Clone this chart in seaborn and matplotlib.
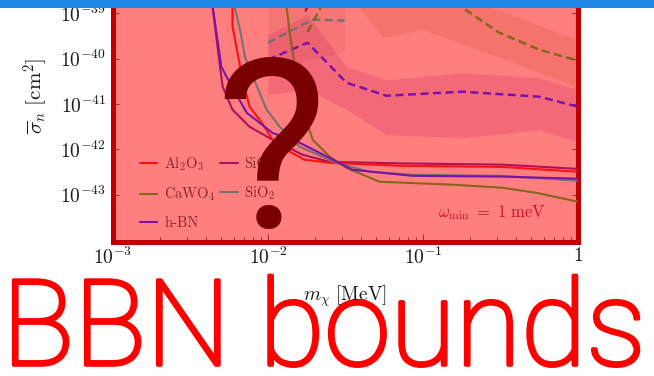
import matplotlib
matplotlib.use("Agg")
import matplotlib.pyplot as plt
from matplotlib.patches import Rectangle
import matplotlib.patheffects as pe
import seaborn as sns

# ---------------- axis ticks ----------------
x_ticks = [1e-3, 1e-2, 1e-1, 1.0]
x_tick_labels = [r"$10^{-3}$", r"$10^{-2}$", r"$10^{-1}$", r"$1$"]
y_ticks = [1e-43, 1e-42, 1e-41, 1e-40, 1e-39, 1e-38]
y_tick_labels = [r"$10^{-43}$", r"$10^{-42}$", r"$10^{-41}$",
                 r"$10^{-40}$", r"$10^{-39}$", r"$10^{-38}$"]

# ---------------- reach curves: m_chi [MeV], sigma_n [cm^2] ----------------
al2o3_m = [5.84e-3, 5.9e-3, 5.9e-3, 6.3e-3, 6.8e-3, 7.6e-3, 9.1e-3, 1.07e-2,
           1.38e-2, 1.72e-2, 2.5e-2, 7.05e-2, 0.325, 1.0]
al2o3_sigma = [1e-38, 1.34e-39, 5.1e-40, 1.58e-40, 4.0e-41, 8.7e-42, 3.9e-42,
               1.63e-42, 8.9e-43, 5.9e-43, 5.05e-43, 4.35e-43, 4.1e-43, 3.2e-43]

sic_m = [4.03e-3, 4.4e-3, 4.9e-3, 5.1e-3, 5.9e-3, 7.6e-3, 1.07e-2, 1.67e-2,
         2.5e-2, 7.05e-2, 0.325, 1.0]
sic_sigma = [1e-38, 1.34e-39, 6.65e-41, 2.4e-41, 7.5e-42, 3.15e-42, 1.63e-42,
             7.6e-43, 5.3e-43, 4.9e-43, 4.6e-43, 3.7e-43]

cawo4_m = [1.2e-2, 1.32e-2, 1.38e-2, 1.49e-2, 1.6e-2, 1.94e-2, 2.5e-2, 3.21e-2,
           5.24e-2, 0.155, 0.325, 0.537, 1.0]
cawo4_sigma = [1e-38, 1.34e-39, 3.75e-40, 6.65e-41, 1.24e-41, 1.63e-42, 6.9e-43,
               3.9e-43, 1.93e-43, 1.66e-43, 1.42e-43, 1.1e-43, 7.0e-44]

sio2_m = [5.35e-3, 6.1e-3, 6.6e-3, 7.1e-3, 8.5e-3, 9.8e-3, 1.19e-2, 1.6e-2,
          2.25e-2, 2.77e-2, 4.52e-2, 8.55e-2, 0.325, 1.0]
sio2_sigma = [1e-38, 1.34e-39, 4.4e-40, 1.1e-40, 2.4e-41, 7.5e-42, 3.15e-42,
              1.14e-42, 6.9e-43, 5.05e-43, 3.2e-43, 2.75e-43, 2.6e-43, 2.03e-43]

hbn_m = [4.03e-3, 4.4e-3, 5.0e-3, 5.66e-3, 7.3e-3, 1.07e-2, 1.6e-2, 2.15e-2,
         3.5e-2, 8.55e-2, 0.325, 1.0]
hbn_sigma = [1e-38, 1.34e-39, 6.65e-41, 2.95e-41, 6.4e-42, 2.3e-42, 1.4e-42,
             8.4e-43, 3.55e-43, 2.6e-43, 2.5e-43, 2.25e-43]

# ---------------- dashed curves with their uncertainty bands ----------------
hbn_dash_m = [1.0e-2, 1.8e-2, 3.21e-2, 5.81e-2, 0.179, 0.562, 1.0]
hbn_dash_sigma = [9.5e-41, 2.25e-40, 2.95e-41, 1.52e-41, 1.87e-41, 1.45e-41, 8.7e-42]
hbn_band_lo = [1.6e-41, 2.07e-41, 7.5e-42, 2.1e-42, 1.8e-42, 2.7e-42, 1.47e-42]
hbn_band_hi = [3.39e-40, 9.3e-40, 6.65e-41, 3.4e-41, 4.9e-41, 3.8e-41, 2.07e-41]

sio2_dash_m = [1.0e-2, 1.94e-2, 3.12e-2]
sio2_dash_sigma = [2.25e-40, 7.3e-40, 6.9e-40]
sio2_band_lo = [4.4e-41, 1.05e-40, 1.36e-40]
sio2_band_hi = [1e-38, 1e-38, 1e-38]

cawo4_dash_m = [1.8e-2, 2.15e-2, 2.69e-2, 5.0e-2, 0.159, 0.179, 0.31, 0.562, 1.0]
cawo4_dash_sigma = [3.9e-40, 1.2e-39, 1e-38, 5e-38, 5.5e-39, 1.34e-39, 3.75e-40,
                    1.58e-40, 9.0e-41]
cawo4_band_m = [0.0312, 0.0389, 0.0548, 0.099, 0.128, 0.28, 1.0]
cawo4_band_lo = [1e-38, 1.34e-39, 2.9e-40, 4.4e-40, 3.2e-40, 1.22e-40, 2.3e-41]
cawo4_band_hi = [1e-38, 1e-38, 1e-38, 1e-38, 1e-38, 1.34e-39, 2.6e-40]

sic_dash_m = [1.49e-2, 1.75e-2, 2.03e-2]
sic_dash_sigma = [3.3e-39, 1.15e-39, 3.3e-39]

legend_order = ["Al$_2$O$_3$", "CaWO$_4$", "h-BN", "SiC", "SiO$_2$"]

c_al2o3 = "#ff1010"
c_sic = "#b0105a"
c_cawo4 = "#86651a"
c_sio2 = "#787070"
c_hbn = "#7b12a8"

# ---------------- style ----------------
sns.set_theme(style="white")
plt.rcParams["font.family"] = ["cmr10", "DejaVu Serif"]
plt.rcParams["mathtext.fontset"] = "cm"
plt.rcParams["axes.formatter.use_mathtext"] = True

W, H = 654, 376
fig = plt.figure(figsize=(W / 100, H / 100), dpi=100)
fig.patch.set_facecolor("white")

ax_left, ax_right, ax_bottom, ax_top = 113, 578, 240, -32
ax = fig.add_axes([ax_left / W, (H - ax_bottom) / H,
                   (ax_right - ax_left) / W, (ax_bottom - ax_top) / H])
ax.set_xscale("log")
ax.set_yscale("log")
ax.set_xlim(1e-3, 1.0)
ax.set_ylim(1e-44, 1e-38)
ax.set_facecolor("white")

# bands
ax.fill_between(hbn_dash_m, hbn_band_lo, hbn_band_hi, color=c_hbn, alpha=0.18,
                lw=0, zorder=1)
ax.fill_between(sio2_dash_m, sio2_band_lo, sio2_band_hi, color=c_sio2, alpha=0.12,
                lw=0, zorder=1)
ax.fill_between(cawo4_band_m, cawo4_band_lo, cawo4_band_hi, color=c_cawo4,
                alpha=0.15, lw=0, zorder=1)

dash = (0, (3.2, 1.8))
for m, s, c in [(hbn_dash_m, hbn_dash_sigma, c_hbn),
                (sio2_dash_m, sio2_dash_sigma, c_sio2),
                (cawo4_dash_m, cawo4_dash_sigma, c_cawo4),
                (sic_dash_m, sic_dash_sigma, c_sic)]:
    sns.lineplot(x=m, y=s, ax=ax, color=c, sort=False, estimator=None,
                 lw=1.8, linestyle=dash, zorder=4)

handles = {}
for name, m, s, c in [("SiC", sic_m, sic_sigma, c_sic),
                      ("Al$_2$O$_3$", al2o3_m, al2o3_sigma, c_al2o3),
                      ("SiO$_2$", sio2_m, sio2_sigma, c_sio2),
                      ("CaWO$_4$", cawo4_m, cawo4_sigma, c_cawo4),
                      ("h-BN", hbn_m, hbn_sigma, c_hbn)]:
    sns.lineplot(x=m, y=s, ax=ax, color=c, sort=False, estimator=None,
                 lw=1.5, zorder=4, label=name, legend=False)
    handles[name] = ax.lines[-1]

leg = ax.legend([handles[k] for k in legend_order], legend_order, ncol=2,
                loc="upper left", bbox_to_anchor=(0.058, 0.311), frameon=False,
                fontsize=10.5, borderpad=0, borderaxespad=0, handlelength=1.2,
                handletextpad=0.45, columnspacing=0.3, labelspacing=0.9)
leg.set_zorder(5)
for t in leg.get_texts():
    t.set_color("#862828")

ax.text(0.815, 0.099, r"$\omega_{\mathrm{min}}\ =\ 1\ \mathrm{meV}$",
        transform=ax.transAxes, ha="center", va="center", fontsize=12,
        color="#8c2a3a", zorder=2)

# translucent red cover with a dark red frame
ax.add_patch(Rectangle((0, -0.009), 1, 1.009, transform=ax.transAxes,
                       facecolor=(1, 0, 0, 0.5), edgecolor="#c00000", lw=3.6,
                       zorder=3, clip_on=False))

for sp in ax.spines.values():
    sp.set_visible(False)
ax.set_xticks(x_ticks, x_tick_labels)
ax.set_yticks(y_ticks, y_tick_labels)
ax.tick_params(axis="both", which="both", direction="in", colors="#555555",
               labelcolor="#1a1a1a", labelsize=14, length=4, width=0.8,
               top=True, right=True, bottom=True, left=True, pad=5)
ax.tick_params(which="minor", length=2)
ax.grid(False)

ax.set_xlabel(r"$m_\chi\ [\mathrm{MeV}]$", fontsize=14, color="#1a1a1a")
ax.xaxis.set_label_coords(0.5, -(283 - ax_bottom) / (ax_bottom - ax_top))
ax.xaxis.label.set_va("top")
ax.set_ylabel(r"$\overline{\sigma}_n\ [\mathrm{cm}^2]$", fontsize=15, color="#1a1a1a")
ax.yaxis.set_label_coords(-(ax_left - 50) / (ax_right - ax_left), 0.53)

# overlaid slide text
fig.text(2 / W, (H - 365) / H, "BBN bounds", fontsize=86, family="Roboto",
         weight="light", color="#ff0000", ha="left", va="baseline", zorder=-1,
         path_effects=[pe.withStroke(linewidth=2.6, foreground="#ff0000")])
fig.text(271 / W, (H - 228) / H, "?", fontsize=170, family="Roboto", weight="normal",
         color="#780000", ha="center", va="baseline", zorder=10)

# title bar strip along the top edge
fig.add_artist(Rectangle((0, 1 - 8 / H), 1, 8 / H, transform=fig.transFigure,
                         facecolor="#1e88e5", edgecolor="none", zorder=20))

fig.savefig("out.png", dpi=100)
